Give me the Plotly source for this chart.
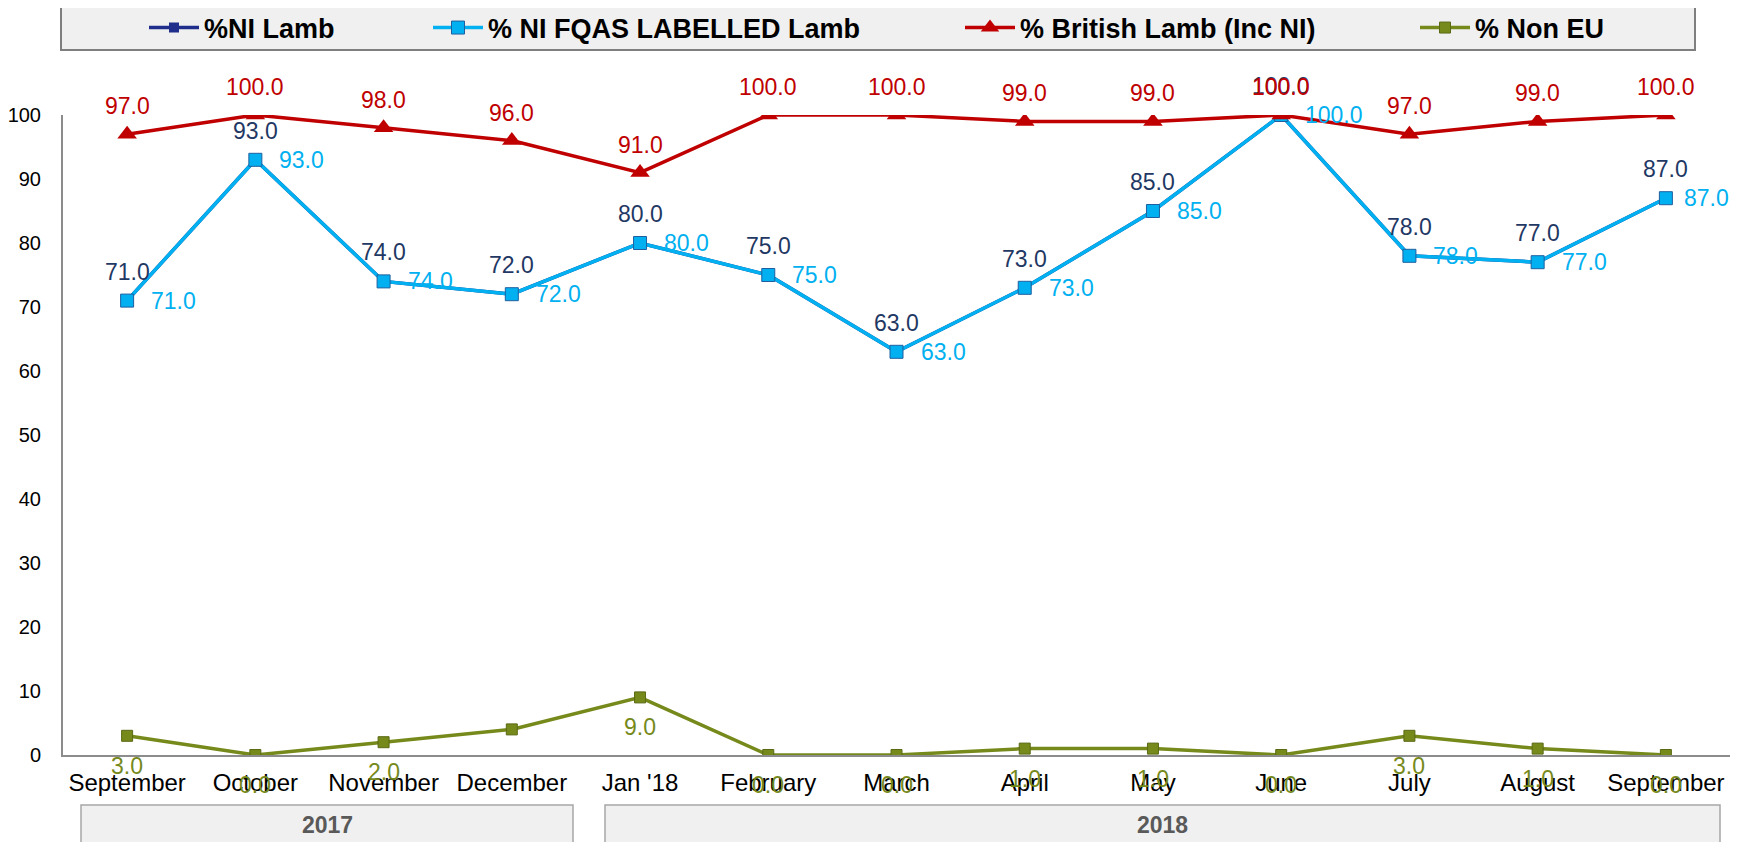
import plotly.graph_objects as go

months = ["September", "October", "November", "December", "Jan '18", "February", "March",
          "April", "May", "June", "July", "August", "September"]
cats = [f"{i}" for i in range(len(months))]

ni_lamb = [71, 93, 74, 72, 80, 75, 63, 73, 85, 100, 78, 77, 87]
ni_fqas = [71, 93, 74, 72, 80, 75, 63, 73, 85, 100, 78, 77, 87]
british = [97, 100, 98, 96, 91, 100, 100, 99, 99, 100, 97, 99, 100]
non_eu = [3, 0, 2, 4, 9, 0, 0, 1, 1, 0, 3, 1, 0]
non_eu_shown = [True, True, True, False, True, True, True, True, True, True, True, True, True]

years = ["2017", "2018"]

FONT = "Arial, Liberation Sans, sans-serif"
NAVY = "#1F2E8A"
NAVY_TXT = "#1F3864"
BLUE = "#00B0F0"
RED = "#C00000"
OLIVE = "#76891B"

# the page body adds an 8px margin, so the figure is sized to fit the window
OFF = 8
W, H = 1746 - OFF, 842 - OFF
L, R, T, B = 63 - OFF, 16, 115 - OFF, 87
pw, ph = W - L - R, H - T - B


def px_x(p):
    return (p - OFF - L) / pw


def px_y(p):
    return 1 + (T - (p - OFF)) / ph


fig = go.Figure()

fig.add_trace(go.Scatter(
    x=cats, y=ni_lamb, name="%NI Lamb", mode="lines+markers", legend="legend",
    line=dict(color=NAVY, width=3.5),
    marker=dict(symbol="square", size=10, color=NAVY)))
fig.add_trace(go.Scatter(
    x=cats, y=ni_fqas, name="% NI FQAS LABELLED Lamb", mode="lines+markers", legend="legend2",
    line=dict(color=BLUE, width=3.5),
    marker=dict(symbol="square", size=13, color=BLUE, line=dict(color="#1F5F9F", width=1))))
fig.add_trace(go.Scatter(
    x=cats, y=british, name="% British Lamb (Inc NI)", mode="lines+markers", legend="legend3",
    line=dict(color=RED, width=3.5),
    marker=dict(symbol="triangle-up", size=17, color=RED)))
fig.add_trace(go.Scatter(
    x=cats, y=non_eu, name="% Non EU", mode="lines+markers", legend="legend4",
    line=dict(color=OLIVE, width=3.5),
    marker=dict(symbol="square", size=11, color=OLIVE, line=dict(color="#5A6A14", width=1))))

ann = []
lab_font = dict(family=FONT, size=23)
for c, v in zip(cats, ni_lamb):
    ann.append(dict(x=c, y=v, text=f"{v:.1f}", showarrow=False, yshift=29,
                    font=dict(lab_font, color=NAVY_TXT)))
for i, (c, v) in enumerate(zip(cats, ni_fqas)):
    ann.append(dict(x=c, y=v, text=f"{v:.1f}", showarrow=False, xanchor="left",
                    xshift=22 if i < len(cats) - 1 else 16,
                    font=dict(lab_font, color=BLUE)))
for c, v in zip(cats, british):
    ann.append(dict(x=c, y=v, text=f"{v:.1f}", showarrow=False, yshift=28,
                    font=dict(lab_font, color=RED)))
for c, v, s in zip(cats, non_eu, non_eu_shown):
    if s:
        ann.append(dict(x=c, y=v, text=f"{v:.1f}", showarrow=False, yshift=-30,
                        font=dict(lab_font, color=OLIVE)))

# year group boxes under the axis
groups = [(81, 573), (605, 1720)]
shapes = []
for (a, b), yr in zip(groups, years):
    shapes.append(dict(type="rect", xref="paper", yref="paper", x0=px_x(a), x1=px_x(b),
                       y0=px_y(860), y1=px_y(805), fillcolor="#F0F0F0",
                       line=dict(color="#A6A6A6", width=1.5), layer="below"))
    ann.append(dict(xref="paper", yref="paper", x=px_x((a + b) / 2), y=px_y(825),
                    xanchor="center", yanchor="middle",
                    text=f"<b>{yr}</b>", showarrow=False,
                    font=dict(family=FONT, size=23, color="#595959")))

# legend frame
shapes.append(dict(type="rect", xref="paper", yref="paper", x0=px_x(61), x1=px_x(1695),
                   y0=px_y(50), y1=px_y(6), fillcolor="#F0F0F0",
                   line=dict(color="#7F7F7F", width=2), layer="below"))

leg = dict(orientation="h", xref="container", yref="container", yanchor="middle",
           y=1 - (28 - OFF) / H, xanchor="left", bgcolor="rgba(0,0,0,0)", borderwidth=0,
           itemwidth=50,
           font=dict(family=FONT, size=27, color="#000000", weight="bold"))
starts = [148, 432, 964, 1419]

fig.update_layout(
    width=W, height=H,
    margin=dict(l=L, r=R, t=T, b=B, autoexpand=False),
    plot_bgcolor="white", paper_bgcolor="white",
    font=dict(family=FONT, size=21, color="#000000"),
    showlegend=True,
    legend=dict(leg, x=(starts[0] - OFF - 4) / W),
    legend2=dict(leg, x=(starts[1] - OFF - 4) / W),
    legend3=dict(leg, x=(starts[2] - OFF - 4) / W),
    legend4=dict(leg, x=(starts[3] - OFF - 4) / W),
    xaxis=dict(type="category", range=[-0.5, 12.5], tickvals=cats, ticktext=months,
               showline=True, linecolor="#8C8C8C", linewidth=2, showgrid=False,
               ticks="", ticklabelstandoff=5, tickfont=dict(size=24), zeroline=False,
               automargin=False),
    yaxis=dict(range=[0, 100], dtick=10, showline=True, linecolor="#8C8C8C", linewidth=2,
               showgrid=False, zeroline=False, ticks="", ticklabelstandoff=16,
               tickfont=dict(size=20), automargin=False),
    shapes=shapes,
    annotations=ann,
)

fig.write_html("out.html")
